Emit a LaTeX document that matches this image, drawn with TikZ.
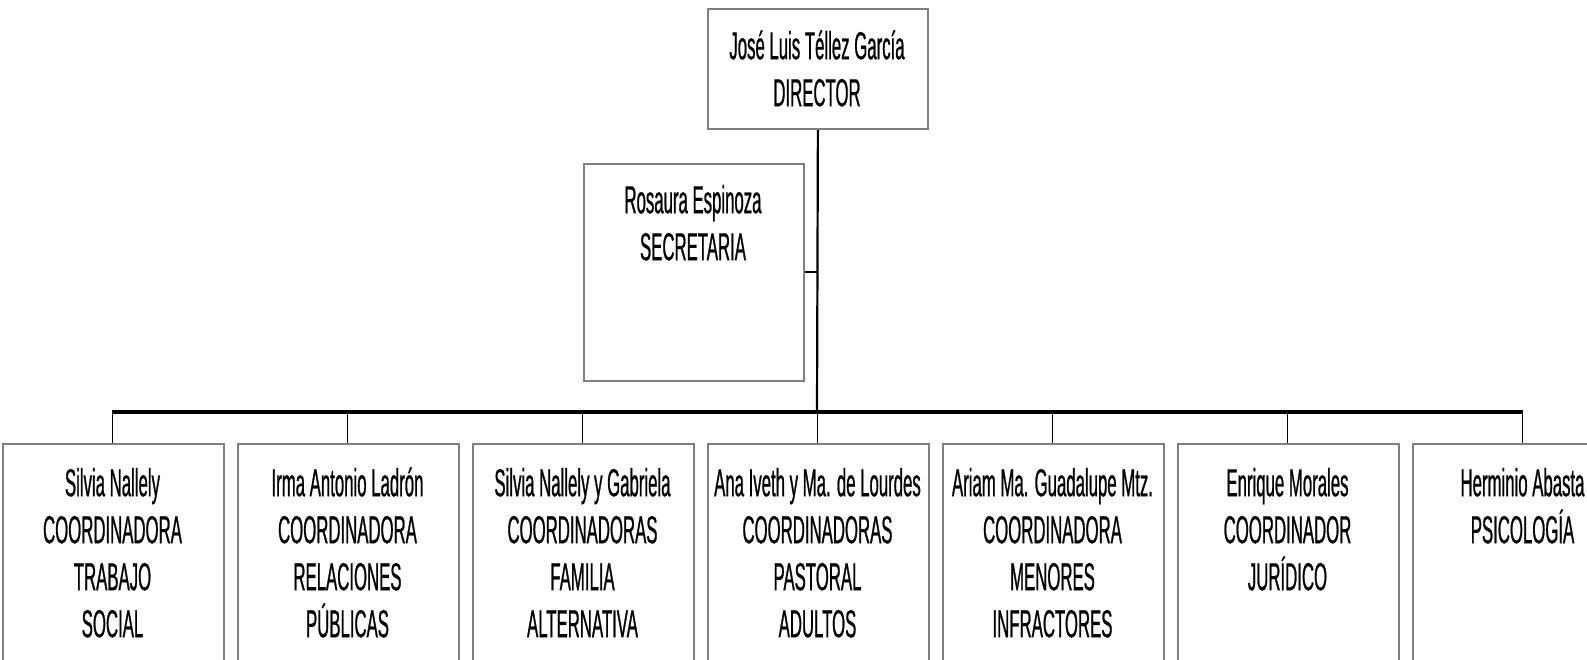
\documentclass[tikz,border=0pt]{standalone}
\usepackage{fontspec}
\setmainfont{Liberation Sans}[FakeStretch=0.43,FakeBold=0.6]
\newcommand\myfl{\rule{0pt}{38pt}}
\begin{document}
\begin{tikzpicture}[x=1pt,y=-1pt,
  box/.style={draw=black!50, line width=1.8pt, fill=white, rectangle, inner sep=0pt, anchor=north west},
  txt/.style={anchor=north, inner sep=0pt, align=center, font={\fontsize{39}{47}\selectfont}},
  bus/.style={line width=3.2pt, black},
  link/.style={line width=1.8pt, black},
  main/.style={line width=2.2pt, black}]
\useasboundingbox (0,0) rectangle (1587,659);
\clip (0,0) rectangle (1587,659);
% director
\node[box, minimum width=220pt, minimum height=120pt] (dir) at (707,8) {};
\node[txt] (tdir) at (817,21) {\myfl José Luis Téllez García\\DIRECTOR};
% secretary
\node[box, minimum width=220pt, minimum height=217pt] (sec) at (583,163) {};
\node[txt] (tsec) at (693,175) {\myfl Rosaura Espinoza\\SECRETARIA};
% bottom boxes
\foreach \i/\t in {1/{Silvia Nallely\\COORDINADORA\\TRABAJO\\SOCIAL},
                   2/{Irma Antonio Ladrón\\COORDINADORA\\RELACIONES\\PÚBLICAS},
                   3/{Silvia Nallely y Gabriela\\COORDINADORAS\\FAMILIA\\ALTERNATIVA},
                   4/{Ana Iveth y Ma. de Lourdes\\COORDINADORAS\\PASTORAL\\ADULTOS},
                   5/{Ariam Ma. Guadalupe Mtz.\\COORDINADORA\\MENORES\\INFRACTORES},
                   6/{Enrique Morales\\COORDINADOR\\JURÍDICO},
                   7/{Herminio Abasta\\PSICOLOGÍA}}{
  \pgfmathsetmacro\xl{2+(\i-1)*235}
  \pgfmathsetmacro\xc{112.5+(\i-1)*235}
  \node[box, minimum width=221pt, minimum height=260pt] (b\i) at (\xl,443) {};
  \node[txt] (t\i) at (\xc,458) {\myfl\t};
  \coordinate (bus\i) at (\xc,412);
}
% connectors
\coordinate (jsec) at (817,272);
\coordinate (jbus) at (817,412);
\draw[main] (dir.south) -- (jbus);
\draw[main] (sec.east |- jsec) -- (jsec);
\draw[bus] ([xshift=-0.9pt]bus1) -- ([xshift=0.9pt]bus7);
\foreach \i in {1,...,7}{
  \draw[link] (bus\i) -- (b\i.north -| bus\i);
}
\end{tikzpicture}
\end{document}
